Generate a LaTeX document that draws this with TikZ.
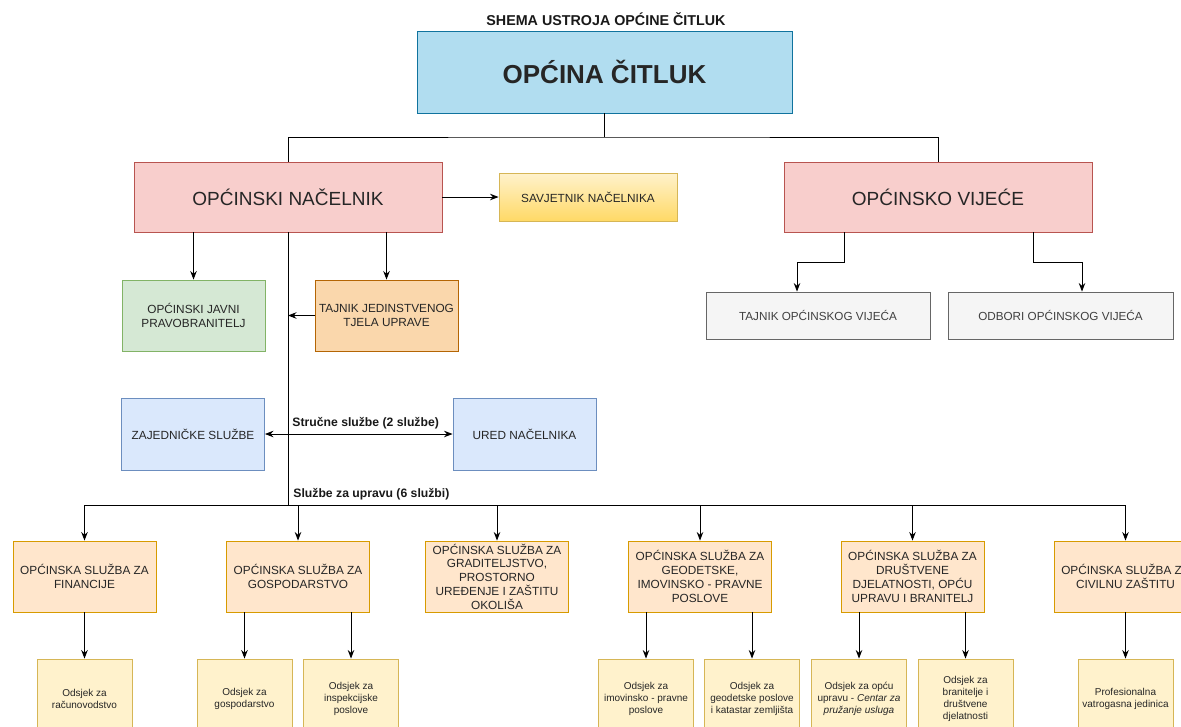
\documentclass[tikz,border=0pt]{standalone}
\usepackage{fontspec}
\setmainfont{Liberation Sans}
\usetikzlibrary{arrows.meta}
\definecolor{plavaT}{HTML}{B1DDF0}
\definecolor{plavaR}{HTML}{10739E}
\definecolor{crvenaT}{HTML}{F8CECC}
\definecolor{crvenaR}{HTML}{B85450}
\definecolor{zutaT}{HTML}{FFF2CC}
\definecolor{zutaD}{HTML}{FFD966}
\definecolor{zutaR}{HTML}{D6B656}
\definecolor{zelenaT}{HTML}{D5E8D4}
\definecolor{zelenaR}{HTML}{82B366}
\definecolor{narT}{HTML}{FAD7AC}
\definecolor{narR}{HTML}{B46504}
\definecolor{svplavaT}{HTML}{DAE8FC}
\definecolor{svplavaR}{HTML}{6C8EBF}
\definecolor{sivaT}{HTML}{F5F5F5}
\definecolor{sivaR}{HTML}{666666}
\definecolor{sluzbaT}{HTML}{FFE6CC}
\definecolor{sluzbaR}{HTML}{D79B00}

\begin{document}
\begin{tikzpicture}[>={Stealth[length=8.5pt,width=6.5pt]},x=1pt,y=-1pt,line width=0.9pt,
  kutija/.style={draw,align=center,inner sep=1pt,text=black!85},
  glavna/.style={kutija,fill=plavaT,draw=plavaR,minimum width=375pt,minimum height=82pt,font=\bfseries\fontsize{26}{30}\selectfont},
  crvena/.style={kutija,fill=crvenaT,draw=crvenaR,minimum width=308pt,minimum height=70pt,font=\fontsize{19}{22}\selectfont},
  savjet/.style={kutija,top color=zutaT,bottom color=zutaD,draw=zutaR,minimum width=178pt,minimum height=48pt,font=\fontsize{11.8}{14}\selectfont},
  zelena/.style={kutija,fill=zelenaT,draw=zelenaR,minimum width=143pt,minimum height=71pt,font=\fontsize{11.8}{14.5}\selectfont},
  narancasta/.style={kutija,fill=narT,draw=narR,minimum width=143pt,minimum height=71pt,font=\fontsize{11.8}{14.5}\selectfont},
  plava/.style={kutija,fill=svplavaT,draw=svplavaR,minimum width=143pt,minimum height=72pt,font=\fontsize{11.8}{14}\selectfont},
  siva/.style={kutija,fill=sivaT,draw=sivaR,text=black!75,minimum width=224pt,minimum height=47pt,font=\fontsize{11.7}{14}\selectfont},
  sluzba/.style={kutija,fill=sluzbaT,draw=sluzbaR,minimum width=143pt,minimum height=71pt,font=\fontsize{11.8}{13.8}\selectfont},
  odsjek/.style={kutija,fill=zutaT,draw=zutaR,minimum width=95pt,minimum height=80pt,font=\fontsize{10}{12}\selectfont},
  natpis/.style={font=\bfseries\fontsize{12.2}{14}\selectfont,text=black!90,anchor=west,inner sep=0pt}]

  \path[use as bounding box,fill=white] (0,0) rectangle (1181,726);
  \clip (0,0) rectangle (1181,726);

  \node[font=\bfseries\fontsize{14.3}{17}\selectfont,text=black!90] (naslov) at (606,19) {SHEMA USTROJA OPĆINE ČITLUK};
  \node[glavna] (opcina) at (604.5,72) {OPĆINA ČITLUK};
  \node[crvena] (nacelnik) at (288,197) {OPĆINSKI NAČELNIK};
  \node[savjet] (savjetnik) at (588,197) {SAVJETNIK NAČELNIKA};
  \node[crvena] (vijece) at (938,197) {OPĆINSKO VIJEĆE};
  \node[siva] (tajnikv) at (818,315.5) {TAJNIK OPĆINSKOG VIJEĆA};
  \node[siva,minimum width=225pt] (odbori) at (1060.5,315.5) {ODBORI OPĆINSKOG VIJEĆA};
  \node[zelena] (pravobranitelj) at (193.5,315.5) {OPĆINSKI JAVNI\\PRAVOBRANITELJ};
  \node[narancasta] (tajnik) at (386.5,315.5) {TAJNIK JEDINSTVENOG\\TJELA UPRAVE};
  \node[plava] (zajednicke) at (193,434) {ZAJEDNIČKE SLUŽBE};
  \node[plava] (ured) at (524.5,434) {URED NAČELNIKA};
  \node[natpis] (strucne) at (292,423) {Stručne službe (2 službe)};
  \node[natpis] (upravne) at (293,494) {Službe za upravu (6 službi)};

  \node[sluzba] (financije) at (84.5,576.5) {OPĆINSKA SLUŽBA ZA\\FINANCIJE};
  \node[sluzba] (gospodarstvo) at (298,576.5) {OPĆINSKA SLUŽBA ZA\\GOSPODARSTVO};
  \node[sluzba] (graditeljstvo) at (497,576.5) {OPĆINSKA SLUŽBA ZA\\GRADITELJSTVO,\\PROSTORNO\\UREĐENJE I ZAŠTITU\\OKOLIŠA};
  \node[sluzba] (geodetske) at (700,576.5) {OPĆINSKA SLUŽBA ZA\\GEODETSKE,\\IMOVINSKO - PRAVNE\\POSLOVE};
  \node[sluzba] (drustvene) at (912.5,576.5) {OPĆINSKA SLUŽBA ZA\\DRUŠTVENE\\DJELATNOSTI, OPĆU\\UPRAVU I BRANITELJ};
  \node[sluzba] (civilna) at (1125.5,576.5) {OPĆINSKA SLUŽBA ZA\\CIVILNU ZAŠTITU};

  \node[odsjek] (racunovodstvo) at (84.5,699) {Odsjek za\\računovodstvo};
  \node[odsjek] (ogospodarstvo) at (244.5,699) {Odsjek za\\gospodarstvo};
  \node[odsjek] (inspekcija) at (351,699) {Odsjek za\\inspekcijske\\poslove};
  \node[odsjek] (imovinsko) at (646,699) {Odsjek za\\imovinsko - pravne\\poslove};
  \node[odsjek] (katastar) at (752,699) {Odsjek za\\geodetske poslove\\i katastar zemljišta};
  \node[odsjek] (opca) at (859,699) {Odsjek za opću\\upravu - \textit{Centar za}\\\textit{pružanje usluga}};
  \node[odsjek] (branitelji) at (965.5,699) {Odsjek za\\branitelje i\\društvene\\djelatnosti};
  \node[odsjek] (vatrogasci) at (1125.5,699) {Profesionalna\\vatrogasna jedinica};

  \coordinate (razdjel) at (604.5,137);
  \coordinate (sabirnica) at (288,505);

  \draw (opcina) -- (razdjel);
  \draw (nacelnik.north) |- (razdjel) -| (vijece.north);
  \draw[->] (nacelnik) -- (savjetnik);
  \draw[->] (nacelnik.south -| pravobranitelj) -- (pravobranitelj);
  \draw[->] (nacelnik.south -| tajnik) -- (tajnik);
  \draw (nacelnik.south) -- (sabirnica);
  \draw[->] (tajnik) -- (tajnik -| sabirnica);
  \draw[<->] (zajednicke) -- (ured);
  \draw[->] ([xshift=-94pt]vijece.south) -- ++(0,30) -| ([xshift=-21pt]tajnikv.north);
  \draw[->] ([xshift=95pt]vijece.south) -- ++(0,30) -| ([xshift=21.5pt]odbori.north);
  \foreach \s in {financije,gospodarstvo,graditeljstvo,geodetske,drustvene,civilna}
    \draw[->] (sabirnica) -| (\s);

  \draw[->] (financije) -- (racunovodstvo);
  \draw[->] (gospodarstvo.south -| ogospodarstvo) -- (ogospodarstvo);
  \draw[->] (gospodarstvo.south -| inspekcija) -- (inspekcija);
  \draw[->] (geodetske.south -| imovinsko) -- (imovinsko);
  \draw[->] (geodetske.south -| katastar) -- (katastar);
  \draw[->] (drustvene.south -| opca) -- (opca);
  \draw[->] (drustvene.south -| branitelji) -- (branitelji);
  \draw[->] (civilna) -- (vatrogasci);
\end{tikzpicture}
\end{document}
